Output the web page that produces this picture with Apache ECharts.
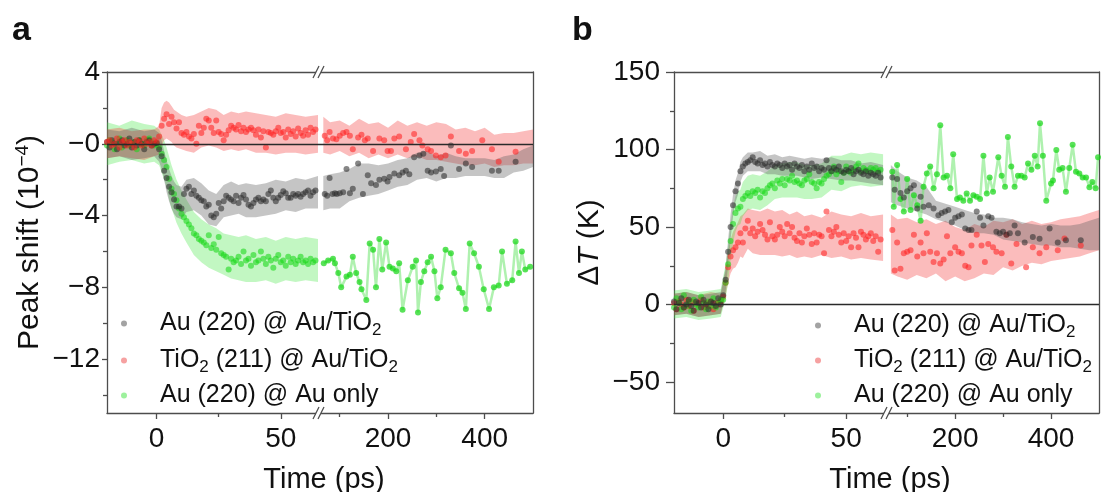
<!DOCTYPE html>
<html><head><meta charset="utf-8">
<script src="https://cdn.jsdelivr.net/npm/echarts@6/dist/echarts.min.js"></script>
<style>html,body{margin:0;padding:0;background:#fff}#c{width:1101px;height:492px}</style>
</head><body><div id="c"></div>
<script>
// ================= DATA =================
const N1 = 'Au (220) @ Au/TiO2', N2 = 'TiO2 (211) @ Au/TiO2', N3 = 'Au (220) @ Au only';

// left (short-delay) segment time grid, ps
const tLeft = [-20,-19,-18,-17,-16,-15,-14,-13,-12,-11,-10,-9,-8,-7,-6,-5,-4,-3,-2,-1,
  0,1,2,3,4,5,6,7,8,9,10,11,12,13,14,15,16,17,18,19,20,21,22,23,24,25,26,27,28,29,30,
  31,32,33,34,35,36,37,38,39,40,41,42,43,44,45,46,47,48,49,50,51,52,53,54,55,56,57,58,59,60,61,62,63,64];

// ---- panel a : peak shift (1e-4) ----
const aGrayL = [0.1,-0.2,0.2,0.0,-0.3,0.1,0.2,-0.1,0.0,0.3,-0.2,0.1,-0.1,0.2,0.0,-0.3,0.1,0.2,-0.1,0.0,
  0.05,-0.3,-0.7,-1.5,-1.9,-2.4,-2.7,-3.1,-3.5,-3.5,-3.6,
  -2.8,-2.5,-2.4,-2.8,-2.6,-2.9,-3.0,-3.15,-3.2,-3.5,
  -3.4,-4.0,-4.1,-3.9,-3.3,-3.6,-3.2,-2.9,-3.0,-3.1,
  -3.2,-2.9,-3.3,-3.0,-2.85,-3.1,-3.4,-3.5,-3.3,-3.1,
  -3.0,-3.2,-3.1,-3.2,-2.8,-2.6,-3.0,-3.2,-3.0,-2.85,
  -2.65,-2.75,-3.0,-3.0,-2.8,-2.9,-2.8,-2.95,-2.8,-2.7,
  -2.6,-2.9,-2.7,-2.6];
const aRedL = [0.1,0.2,-0.1,0.0,0.3,-0.2,0.1,0.2,-0.1,0.1,0.0,-0.2,0.2,0.1,-0.1,0.3,0.0,0.1,-0.1,0.2,
  0.1,0.4,1.0,1.4,1.65,1.1,1.5,1.2,0.85,1.2,0.6,
  0.5,0.65,0.4,0.3,0.55,0.0,1.0,0.6,0.9,1.4,
  1.3,0.9,0.6,1.3,0.65,0.55,0.2,0.5,0.75,1.0,
  0.9,0.8,1.05,0.7,0.9,0.65,0.8,0.9,0.75,0.5,
  0.8,0.35,0.7,-0.2,0.65,0.6,0.5,0.7,0.9,0.6,
  0.65,0.35,0.8,0.55,0.7,0.4,0.85,0.6,0.45,0.75,
  0.5,0.9,0.65,0.8];
const aGreenL = [-0.1,0.2,0.1,-0.3,0.0,0.3,-0.2,0.1,0.2,-0.1,0.0,0.1,-0.3,0.2,0.0,-0.1,0.2,0.3,0.1,-0.1,
  0.0,-0.2,-0.55,-0.9,-1.3,-1.95,-2.5,-2.8,-3.15,-3.6,-3.9,
  -4.1,-4.3,-4.5,-4.7,-5.0,-5.1,-5.3,-5.4,-5.5,-5.65,
  -5.1,-5.8,-5.6,-5.9,-5.2,-6.1,-6.2,-6.3,-7.0,-6.4,
  -6.6,-6.5,-6.3,-6.7,-6.0,-6.5,-6.4,-6.8,-6.2,-6.6,
  -6.5,-6.0,-6.4,-6.7,-6.3,-6.5,-6.9,-6.4,-6.2,-6.6,
  -6.5,-6.8,-6.3,-6.6,-6.4,-6.7,-6.5,-6.3,-6.6,-6.5,
  -6.7,-6.4,-6.6,-6.5];

const aGrayRT = [69,74,79,85,90,94,100,107,114,121,127,138,148,158,165,175,182,192,199,203,213,223,230,237,244,254,265,273,282,289,299,309,316,330,347,361,374,415,429,464];
const aGrayRV = [-2.8,-2.9,-1.9,-2.8,-2.75,-2.8,-2.75,-2.7,-1.4,-2.75,-2.5,-1.1,-2.8,-1.75,-2.2,-2.3,-2.0,-1.95,-2.1,-1.85,-1.65,-1.75,-1.6,-1.5,-1.7,-0.75,-0.65,-0.55,-1.5,-1.6,-1.55,-1.4,-1.8,-0.1,-1.4,-1.1,-1.3,-1.5,-1.5,-1.0];
const aRedRT = [69,74,79,86,93,100,107,114,121,127,138,145,152,158,169,182,192,199,206,213,223,237,247,254,265,271,282,289,299,309,319,330,347,361,374,395,415,429,464];
const aRedRV = [0.45,0.2,0.65,0.3,0.25,0.45,0.6,0.65,0.45,-0.3,0.35,0.5,0.2,0.3,-0.4,0.3,0.2,-0.4,-0.4,0.3,0.4,-0.3,0.1,0.55,0.2,-0.1,-0.3,-0.4,-0.65,-0.75,-0.65,0.4,-0.4,-0.55,-0.4,0.2,-0.3,-1.0,-0.45];
const aGreenRT = [67,76,86,90,97,103,114,121,127,134,141,145,155,162,169,175,182,188,196,203,210,217,223,230,241,251,258,262,268,275,282,289,296,302,309,319,330,337,347,354,361,369,378,388,398,409,419,429,436,446,457,464,471,477,484,494];
const aGreenRV = [-6.65,-6.5,-6.4,-6.65,-7.2,-8.0,-7.4,-7.3,-6.3,-7.2,-7.7,-8.1,-8.7,-5.55,-5.9,-8.0,-5.3,-7.0,-5.5,-6.85,-6.95,-7.1,-6.65,-9.25,-7.6,-6.85,-6.5,-9.4,-7.7,-7.1,-6.6,-6.3,-7.1,-8.6,-8.0,-5.9,-6.1,-7.2,-8.05,-8.3,-9.2,-5.55,-6.1,-6.85,-8.1,-9.2,-8.0,-7.9,-6.0,-7.8,-7.6,-5.45,-7.2,-6.0,-7.0,-6.85];

// error bands (lower / upper)
const bandTL = [-20,-15,-10,-5,-1,1,2,3,4,5,6,7,8,10,12,15,18,21,24,27,30,33,36,40,44,48,52,56,60,65];
const bandTR = [66,80,100,120,140,160,180,200,220,240,260,280,300,320,340,360,380,400,420,440,460,480,500];
const aGrayHiL = [0.8,0.7,0.9,0.7,0.8,0.6,0.2,-0.4,-0.9,-1.4,-1.8,-2.1,-2.3,-2.4,-2.0,-1.9,-2.2,-2.6,-2.8,-2.3,-2.1,-2.3,-2.2,-2.3,-2.2,-2.0,-2.1,-1.9,-2.0,-1.8];
const aGrayLoL = [-0.8,-0.7,-0.9,-0.8,-0.7,-1.0,-1.4,-2.0,-2.7,-3.2,-3.6,-3.9,-4.1,-4.2,-3.8,-3.7,-4.0,-4.5,-4.6,-4.1,-4.0,-3.9,-4.1,-4.1,-4.0,-3.9,-3.7,-3.8,-3.6,-3.6];
const aRedHiL = [0.8,0.9,0.7,0.8,0.8,1.0,2.0,2.3,2.4,2.3,2.1,1.9,1.8,1.6,1.5,1.6,1.8,2.0,1.9,1.6,1.8,1.7,1.8,1.7,1.6,1.5,1.7,1.6,1.5,1.6];
const aRedLoL = [-0.8,-0.7,-0.8,-0.9,-0.7,-0.6,-0.1,0.2,0.3,0.2,0.1,-0.1,-0.2,-0.3,-0.4,-0.5,-0.2,-0.1,-0.2,-0.4,-0.3,-0.4,-0.3,-0.5,-0.5,-0.6,-0.5,-0.5,-0.6,-0.5];
const aGreenHiL = [1.2,1.0,1.3,1.1,1.0,0.8,0.5,0.2,-0.2,-0.7,-1.2,-1.6,-2.0,-2.6,-3.1,-3.8,-4.2,-4.5,-4.7,-5.0,-5.1,-5.2,-5.1,-5.3,-5.2,-5.4,-5.2,-5.3,-5.2,-5.3];
const aGreenLoL = [-1.2,-1.0,-0.9,-1.1,-1.0,-1.2,-1.6,-2.0,-2.4,-3.1,-3.6,-4.0,-4.4,-5.0,-5.5,-6.2,-6.6,-6.9,-7.1,-7.3,-7.5,-7.6,-7.7,-7.7,-7.6,-7.8,-7.6,-7.7,-7.6,-7.7];
const aGrayHiR = [-1.8,-1.7,-1.6,-1.4,-1.1,-1.1,-1.2,-1.1,-0.9,-0.8,-0.5,-0.4,-0.7,-0.5,-0.7,-0.8,-0.8,-0.8,-0.9,-0.7,-0.6,-0.3,-0.1];
const aGrayLoR = [-3.7,-3.6,-3.6,-3.2,-3.0,-2.9,-2.8,-2.6,-2.4,-2.3,-2.0,-1.9,-2.1,-1.9,-1.9,-1.8,-1.8,-1.8,-1.9,-1.9,-1.6,-1.5,-1.3];
const aRedHiR = [1.5,1.2,1.3,1.0,1.4,1.1,1.2,0.9,1.3,1.0,1.2,1.0,1.2,1.1,0.8,0.9,0.7,0.9,0.5,0.6,0.6,0.7,0.8];
const aRedLoR = [-0.5,-0.6,-0.4,-0.7,-0.5,-0.8,-0.6,-0.8,-0.6,-0.8,-0.7,-0.9,-0.9,-1.0,-1.1,-1.2,-1.2,-1.1,-1.3,-1.2,-1.2,-1.1,-1.1];

// ---- panel b : ΔT (K) ----
const bGrayL = [2,-3,1,4,-2,0,3,-1,-4,2,1,-2,3,0,-3,2,1,-1,4,0,
  6,16,34,50,64,73,78,86,89,91,92,
  93,95,92,91,93,90,91,89,92,90,
  89,91,90,88,91,89,90,87,91,89,
  88,90,86,89,87,91,88,89,86,88,
  87,93,88,86,88,87,89,86,85,87,
  86,88,84,86,87,85,84,86,83,85,
  84,83,85,82];
const bGreenL = [-2,4,1,-3,6,-1,2,-4,3,0,-2,5,1,-3,2,-1,4,-2,1,3,
  3,14,26,41,52,59,62,63,68,70,72,
  70,73,72,74,69,73,72,75,77,78,
  75,80,78,81,77,81,80,83,79,80,
  78,77,80,81,84,79,78,75,79,78,
  81,83,84,86,89,84,86,79,85,89,
  86,85,87,89,91,86,88,87,86,88,
  87,88,86,87];
const bRedL = [1,-3,2,0,-2,3,-1,2,-4,1,0,3,-2,1,-1,2,-3,1,0,2,
  5,14,24,31,35,37,40,46,40,49,54,
  46,49,44,47,52,48,45,42,53,44,
  42,45,50,47,44,52,46,50,43,41,
  46,40,44,49,45,39,46,40,45,44,
  33,60,48,44,47,50,45,40,46,41,
  44,37,46,43,37,47,45,42,44,46,
  41,44,34,42];

const bGrayRT = [69,74,79,86,93,100,107,114,121,128,134,145,155,165,172,179,186,193,200,207,214,221,228,234,245,252,259,269,276,286,293,300,307,314,324,331,345,362,376,397,414,431,462];
const bGrayRV = [82,74,81,72,69,73,75,77,62,69.5,63,64,62,57.6,59,60,61,53,56,57,58,49,48,48,60,56,51,57,56,47,46,47,45,46,51,46,40,43.6,42.5,49,40,41.5,41.5];
const bRedRT = [69,74,79,86,93,100,107,114,121,128,134,141,148,155,162,169,176,183,190,200,207,214,221,228,234,245,255,262,269,279,286,297,307,317,328,348,362,376,390,414,428,462];
const bRedRV = [48,22,40,23,33,34,35,45,31,40,33,46,34,27.5,33,26.5,29,44,33,37,34,33,25,24,38,45,38,27.5,39,37,34,33,45,26.5,39,24,37,33,37,35,42.6,38];
const bGreenRT = [69,72,79,86,93,100,107,114,121,128,134,141,148,155,162,169,176,183,190,196,204,210,217,224,231,238,245,252,259,266,272,279,290,297,304,310,317,324,331,338,345,352,359,366,372,377,383,390,400,404,411,417,424,431,438,445,452,459,466,473,480,486,493,498];
const bGreenRV = [85.6,63,90,68,60,81,61,70.5,64,54,76,84.5,89,75,84,115.7,82,83,75,97,68,69,67,71.6,67,70.5,69.5,68,96,71.6,82,72.7,95,83,76,108,89,76,83,83,82,91,87,96,89,117,96,67,78,80,99.6,87,88,72.7,88,103,85.6,84.5,82,82,75.7,79,75,95];

const bGrayHiL = [7,8,6,7,8,24,42,58,71,80,85,92,95,98,98,99,96,97,95,96,95,94,95,94,95,93,93,91,92,90];
const bGrayLoL = [-7,-6,-8,-7,-6,8,26,42,57,66,71,79,83,86,86,86,84,84,83,83,83,82,81,82,81,80,80,79,78,77];
const bGreenHiL = [9,10,8,9,10,26,38,52,63,70,73,74,79,83,84,83,86,90,91,92,92,90,90,91,96,96,98,97,98,97];
const bGreenLoL = [-9,-8,-10,-9,-8,4,14,29,40,47,51,52,57,61,62,61,64,68,69,69,69,68,68,69,74,73,76,77,76,77];
const bRedHiL = [7,8,6,8,7,22,34,42,47,50,53,57,58,62,61,60,62,60,61,58,60,57,58,56,60,58,57,59,57,58];
const bRedLoL = [-7,-6,-8,-7,-6,6,14,20,23,24,27,31,30,36,33,32,32,32,31,32,30,31,30,32,30,31,29,30,29,28];
const bGrayHiR = [90,86,82,80,76,67,65,63,61,59,58,56,56,55,53,52,51,52,51,51,52,54,56];
const bGrayLoR = [66,64,62,60,58,55,53,51,48,46,46,45,42,41,40,39,38,38,37,37,36,35,35];
const bRedHiR = [58,55,56,53,55,52,54,50,48,52,50,54,53,55,52,54,52,53,55,56,57,59,61];
const bRedLoR = [20,18,16,19,17,20,15,18,15,17,20,19,24,22,25,27,26,28,29,30,31,33,35];

// ticks
const aYLabels = [-12,-8,-4,0,4], aYMinor = [-14,-10,-6,-2,2];
const bYLabels = [-50,0,50,100,150], bYMinor = [-25,25,75,125];
const xLLabels = [0,50], xLMinor = [25];
const xRLabels = [200,400], xRMinor = [100,300];

// ================= STYLE / LAYOUT =================
const F = '"Liberation Sans", Arial, Helvetica, sans-serif';
const AXC = '#4d4d4d', TXT = '#111';
const LS = {color: AXC, width: 1.3};
const C = {
  gray: 'rgba(45,45,45,0.72)', red: 'rgba(255,35,35,0.72)', green: 'rgba(25,215,25,0.72)',
  grayBand: 'rgba(95,95,95,0.36)', redBand: 'rgba(245,70,70,0.36)', greenBand: 'rgba(70,230,70,0.33)',
  greenLine: 'rgba(110,230,110,0.55)'
};
const G = { top: 72, h: 341, aL: [107, 211], aR: [318, 215], bL: [674, 214], bR: [888, 211] };

const pairs = (t, v) => t.map((x, i) => [x, v[i]]);
const band = (t, lo, hi) => t.map((x, i) => [x, lo[i], hi[i]]);
const minus = v => v < 0 ? '\u2212' + Math.abs(v) : String(v);

const xAxis = [], yAxis = [];
function addX(grid, min, max, labels, minors) {
  const idx = xAxis.length;
  xAxis.push({type:'value', gridIndex:grid, min, max, position:'bottom',
    axisLine:{show:true, onZero:false, lineStyle:LS},
    axisTick:{show:true, customValues:labels, length:6, lineStyle:LS},
    axisLabel:{show:true, customValues:labels, margin:12, fontSize:28, color:TXT, fontFamily:F},
    splitLine:{show:false}});
  xAxis.push({type:'value', gridIndex:grid, min, max, position:'bottom',
    axisLine:{show:false, onZero:false}, axisTick:{show:true, customValues:minors, length:4, lineStyle:LS},
    axisLabel:{show:false}, splitLine:{show:false}});
  xAxis.push({type:'value', gridIndex:grid, min, max, position:'top',
    axisLine:{show:true, onZero:false, lineStyle:LS}, axisTick:{show:false}, axisLabel:{show:false}, splitLine:{show:false}});
  return idx;
}
function addYLeft(grid, min, max, labels, minors, fmt, name, nameGap, rich, tickLen, margin) {
  const idx = yAxis.length;
  yAxis.push({type:'value', gridIndex:grid, min, max, position:'left',
    name, nameLocation:'middle', nameGap, nameRotate:90,
    nameTextStyle:{fontSize:30, fontFamily:F, color:TXT, rich},
    axisLine:{show:true, onZero:false, lineStyle:LS},
    axisTick:{show:true, customValues:labels, length:tickLen, lineStyle:LS},
    axisLabel:{show:true, customValues:labels, formatter:fmt, margin, fontSize:28, color:TXT, fontFamily:F},
    splitLine:{show:false}});
  yAxis.push({type:'value', gridIndex:grid, min, max, position:'left',
    axisLine:{show:false, onZero:false}, axisTick:{show:true, customValues:minors, length:4, lineStyle:LS},
    axisLabel:{show:false}, splitLine:{show:false}});
  return idx;
}
function addYRight(grid, min, max) {
  const idx = yAxis.length;
  yAxis.push({type:'value', gridIndex:grid, min, max, position:'right',
    axisLine:{show:true, onZero:false, lineStyle:LS}, axisTick:{show:false}, axisLabel:{show:false}, splitLine:{show:false}});
  return idx;
}

const supRich = {
  n:{fontSize:30, fontFamily:F, color:TXT, lineHeight:36},
  sup:{fontSize:19, fontFamily:F, color:TXT, lineHeight:22, padding:[0,0,14,0]}
};
const itRich = {
  n:{fontSize:30, fontFamily:F, color:TXT},
  i:{fontSize:30, fontFamily:F, color:TXT, fontStyle:'italic'}
};

const xa0 = addX(0, -20, 65, xLLabels, xLMinor);
const xa1 = addX(1, 55, 500, xRLabels, xRMinor);
const xb0 = addX(2, -20, 67, xLLabels, xLMinor);
const xb1 = addX(3, 60, 500, xRLabels, xRMinor);
const ya0 = addYLeft(0, -15, 4, aYLabels, aYMinor, v => v === 0 ? '\u22120' : minus(v), '{n|Peak shift (10}{sup|\u22124}{n|)}', 59, supRich, 5, 7);
const ya1 = addYRight(1, -15, 4);
const yb0 = addYLeft(2, -70, 150, bYLabels, bYMinor, v => minus(v), '{n|\u0394}{i|T}{n| (K)}', 69, itRich, 8, 14);
const yb1 = addYRight(3, -70, 150);

function bandSeries(xi, yi, data, color) {
  return {type:'custom', xAxisIndex:xi, yAxisIndex:yi, data, encode:{x:0, y:[1,2]}, clip:true, silent:true, z:1,
    renderItem(params, api) {
      if (params.dataIndexInside !== 0) return null;
      const n = params.dataInsideLength, up = [], dn = [];
      for (let i = 0; i < n; i++) {
        up.push(api.coord([api.value(0, i), api.value(2, i)]));
        dn.push(api.coord([api.value(0, i), api.value(1, i)]));
      }
      return {type:'polygon', shape:{points: up.concat(dn.reverse())}, style:{fill: color}};
    }};
}
function dots(xi, yi, name, data, color) {
  return {type:'scatter', name, xAxisIndex:xi, yAxisIndex:yi, data, symbol:'circle', symbolSize:6,
    itemStyle:{color}, z:3, silent:true};
}
function zeroLine(s) {
  s.markLine = {silent:true, symbol:['none','none'], label:{show:false}, animation:false,
    lineStyle:{color:'#2a2a2a', width:1.3, type:'solid'}, data:[{yAxis:0}]};
  return s;
}
function greenLine(xi, yi, data) {
  return {type:'line', name:N3, xAxisIndex:xi, yAxisIndex:yi, data, symbol:'circle', symbolSize:6, showAllSymbol:true,
    lineStyle:{color:C.greenLine, width:2.5}, itemStyle:{color:C.green, borderWidth:0}, z:3, silent:true};
}

const series = [
  // panel a, left
  bandSeries(xa0, ya0, band(bandTL, aGreenLoL, aGreenHiL), C.greenBand),
  bandSeries(xa0, ya0, band(bandTL, aRedLoL, aRedHiL), C.redBand),
  bandSeries(xa0, ya0, band(bandTL, aGrayLoL, aGrayHiL), C.grayBand),
  dots(xa0, ya0, N3, pairs(tLeft, aGreenL), C.green),
  dots(xa0, ya0, N1, pairs(tLeft, aGrayL), C.gray),
  zeroLine(dots(xa0, ya0, N2, pairs(tLeft, aRedL), C.red)),
  // panel a, right
  bandSeries(xa1, ya1, band(bandTR, aRedLoR, aRedHiR), C.redBand),
  bandSeries(xa1, ya1, band(bandTR, aGrayLoR, aGrayHiR), C.grayBand),
  greenLine(xa1, ya1, pairs(aGreenRT, aGreenRV)),
  dots(xa1, ya1, N1, pairs(aGrayRT, aGrayRV), C.gray),
  zeroLine(dots(xa1, ya1, N2, pairs(aRedRT, aRedRV), C.red)),
  // panel b, left
  bandSeries(xb0, yb0, band(bandTL, bRedLoL, bRedHiL), C.redBand),
  bandSeries(xb0, yb0, band(bandTL, bGreenLoL, bGreenHiL), C.greenBand),
  bandSeries(xb0, yb0, band(bandTL, bGrayLoL, bGrayHiL), C.grayBand),
  dots(xb0, yb0, N2, pairs(tLeft, bRedL), C.red),
  dots(xb0, yb0, N3, pairs(tLeft, bGreenL), C.green),
  zeroLine(dots(xb0, yb0, N1, pairs(tLeft, bGrayL), C.gray)),
  // panel b, right
  bandSeries(xb1, yb1, band(bandTR, bRedLoR, bRedHiR), C.redBand),
  bandSeries(xb1, yb1, band(bandTR, bGrayLoR, bGrayHiR), C.grayBand),
  greenLine(xb1, yb1, pairs(bGreenRT, bGreenRV)),
  dots(xb1, yb1, N2, pairs(bRedRT, bRedRV), C.red),
  zeroLine(dots(xb1, yb1, N1, pairs(bGrayRT, bGrayRV), C.gray))
];

const RICH = {};
RICH[N1] = '{g| }{n|Au (220) @ Au/TiO}{s|2}';
RICH[N2] = '{g| }{n|TiO}{s|2}{n| (211) @ Au/TiO}{s|2}';
RICH[N3] = '{g| }{n|Au (220) @ Au only}';
const legRich = {
  g:{width:28, fontSize:25, lineHeight:34},
  n:{fontSize:25, fontFamily:F, color:TXT, lineHeight:34},
  s:{fontSize:17, fontFamily:F, color:TXT, lineHeight:20, padding:[14,0,0,0]}
};
const LEG_COLOR = {}, LEG_OFF = {};
LEG_COLOR[N1] = '#8c8c8c'; LEG_COLOR[N2] = '#f48a8a'; LEG_COLOR[N3] = '#84ee84';
LEG_OFF[N1] = 20; LEG_OFF[N2] = 18; LEG_OFF[N3] = 14;
// one legend component per row so every row sits where the reference puts it
function legendRow(left, rowY, name) {
  return {left, top: rowY - LEG_OFF[name], orient:'vertical', itemWidth:6, itemHeight:6, icon:'circle', padding:5,
    selectedMode:false, formatter: n => RICH[n],
    textStyle:{fontSize:25, fontFamily:F, color:TXT, rich:legRich},
    data:[{name, itemStyle:{color:LEG_COLOR[name]}}]};
}
const legends = [
  legendRow(116, 323, N1), legendRow(116, 358, N2), legendRow(116, 392, N3),
  legendRow(810, 325, N1), legendRow(810, 358, N2), legendRow(810, 392, N3)
];

const graphic = [];
function brk(cx, cy) {
  graphic.push({type:'rect', shape:{x:cx-4, y:cy-2, width:5, height:4}, style:{fill:'#fff'}, z:100, silent:true});
  graphic.push({type:'line', shape:{x1:cx-7, y1:cy+6, x2:cx-1, y2:cy-6}, style:{stroke:AXC, lineWidth:1.2}, z:101, silent:true});
  graphic.push({type:'line', shape:{x1:cx-2, y1:cy+6, x2:cx+4, y2:cy-6}, style:{stroke:AXC, lineWidth:1.2}, z:101, silent:true});
}
brk(G.aR[0] + 2, G.top); brk(G.aR[0] + 2, G.top + G.h);
brk(G.bR[0], G.top); brk(G.bR[0], G.top + G.h);
function txt(x, y, s, size, weight, align) {
  graphic.push({type:'text', x, y, silent:true, z:50,
    style:{text:s, fontSize:size, fontWeight:weight||'normal', fontFamily:F, fill:TXT, align:align||'center', verticalAlign:'middle'}});
}
txt(12, 31, 'a', 34, 'bold', 'left');
txt(572, 31, 'b', 34, 'bold', 'left');
txt(324, 480, 'Time (ps)', 29);
txt(890, 480, 'Time (ps)', 29);

const option = {
  animation:false,
  backgroundColor:'#fff',
  grid:[
    {left:G.aL[0], top:G.top, width:G.aL[1], height:G.h, outerBoundsMode:'none'},
    {left:G.aR[0], top:G.top, width:G.aR[1], height:G.h, outerBoundsMode:'none'},
    {left:G.bL[0], top:G.top, width:G.bL[1], height:G.h, outerBoundsMode:'none'},
    {left:G.bR[0], top:G.top, width:G.bR[1], height:G.h, outerBoundsMode:'none'}
  ],
  xAxis, yAxis,
  legend: legends,
  graphic,
  series
};
const chart = echarts.init(document.getElementById('c'), null, {renderer:'canvas'});
chart.setOption(option);
</script></body></html>
